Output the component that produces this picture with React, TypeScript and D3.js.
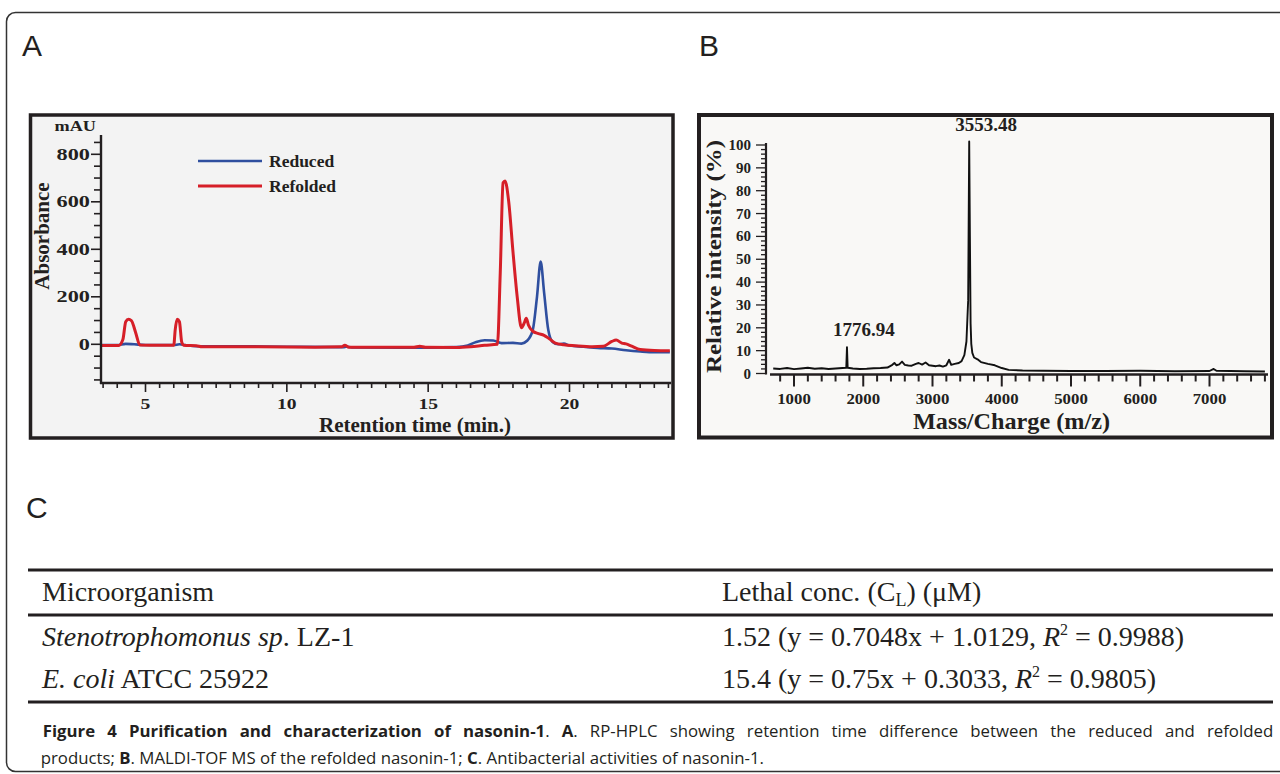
import React from 'react';
import * as d3 from 'd3';

// ---- panel A: RP-HPLC traces ----
const reducedTime = [3.45, 4.0, 4.3, 4.6, 5.0, 6.0, 6.2, 6.4, 6.8, 8.0, 10.0, 12.0, 12.1, 12.3, 14.0, 15.0, 16.0, 16.4, 16.7, 17.0, 17.3, 17.6, 18.0, 18.3, 18.5, 18.7, 18.85, 18.98, 19.1, 19.25, 19.4, 19.6, 19.8, 20.0, 20.5, 21.0, 21.5, 22.0, 22.5, 23.0, 23.55];
const reducedAbs = [-3, -3, 2, 0, -3, -3, 0, -3, -8, -8, -10, -12, -10, -13, -14, -14, -12, -5, 10, 17, 16, 5, 6, 3, 15, 60, 200, 348, 220, 60, 10, 0, 3, -5, -10, -15, -18, -25, -30, -33, -33];

const refoldedTime = [3.45, 4.05, 4.2, 4.3, 4.4, 4.5, 4.65, 4.8, 5.5, 6.0, 6.05, 6.12, 6.2, 6.28, 6.35, 6.8, 7.0, 9.0, 11.0, 11.95, 12.05, 12.2, 13.0, 14.5, 14.7, 14.9, 16.0, 16.5, 17.0, 17.45, 17.55, 17.65, 17.72, 17.85, 18.0, 18.15, 18.3, 18.4, 18.47, 18.55, 18.7, 18.9, 19.1, 19.3, 19.5, 19.8, 20.2, 20.8, 21.2, 21.5, 21.65, 21.85, 22.0, 22.2, 22.5, 23.0, 23.55];
const refoldedAbs = [-5, -5, 20, 95, 105, 100, 50, -3, -4, -4, 60, 105, 95, 10, -4, -6, -10, -10, -12, -10, -4, -12, -12, -12, -8, -12, -13, -10, -4, 0, 300, 680, 688, 600, 390, 200, 70, 90, 110, 80, 55, 45, 38, 22, 5, -2, -6, -10, -8, 12, 18, 5, 2, -8, -22, -26, -27];

const hplcYTicks = [0, 200, 400, 600, 800];
const hplcXTicks = [5, 10, 15, 20];
const legendNames = ['Reduced', 'Refolded'];

// ---- panel B: MALDI-TOF spectrum ----
const msMass = [700, 800, 900, 1000, 1100, 1200, 1300, 1400, 1500, 1600, 1700, 1755, 1765, 1775, 1850, 1950, 2050, 2150, 2250, 2350, 2420, 2450, 2480, 2520, 2560, 2600, 2650, 2700, 2760, 2800, 2850, 2900, 2950, 3000, 3050, 3100, 3150, 3200, 3240, 3270, 3320, 3380, 3420, 3460, 3490, 3515, 3530, 3540, 3550, 3560, 3575, 3600, 3650, 3700, 3800, 3900, 4000, 4100, 4300, 4600, 5000, 5500, 6000, 6500, 7000, 7060, 7100, 7500, 7800];
const msIntensity = [2.2, 2.0, 2.4, 1.9, 2.2, 2.5, 2.1, 2.3, 2.0, 2.2, 2.4, 2.5, 11.5, 2.5, 2.2, 2.0, 2.1, 2.3, 2.4, 2.6, 3.8, 4.6, 3.6, 4.0, 5.2, 3.8, 3.5, 3.4, 4.2, 4.6, 3.9, 4.8, 3.6, 3.4, 3.2, 3.5, 3.0, 3.6, 6.0, 3.8, 4.2, 4.6, 5.4, 8.0, 14, 32, 101.5, 60, 22, 13, 9, 7, 6.2, 5.0, 4.2, 3.6, 2.4, 1.6, 1.3, 1.2, 1.1, 1.1, 1.2, 1.0, 1.1, 2.0, 1.2, 1.0, 0.9];
const msYTicks = [0, 10, 20, 30, 40, 50, 60, 70, 80, 90, 100];
const msXTicks = [1000, 2000, 3000, 4000, 5000, 6000, 7000];
const peakMass = [1765, 3530];
const peakText = ['1776.94', '3553.48'];

// ---- panel C: table ----
const tableHeader = ['Microorganism', 'Lethal conc.'];
const organismItalic = ['Stenotrophomonus sp', 'E. coli'];
const organismRest = ['. LZ-1', ' ATCC 25922'];
const lethalConc = ['1.52', '15.4'];
const fitEquation = ['y = 0.7048x + 1.0129', 'y = 0.75x + 0.3033'];
const fitR2 = ['0.9988', '0.9805'];

const serif = "'Liberation Serif', 'Times New Roman', serif";
const sans = "'Liberation Sans', Arial, sans-serif";
const capFont = "'Open Sans', 'Noto Sans', sans-serif";
const ink = '#231f20';
const blue = '#2f4f9f';
const red = '#d61f28';

function PanelA() {
  const x = d3.scaleLinear().domain([5, 20]).range([145.5, 569.5]);
  const y = d3.scaleLinear().domain([0, 800]).range([344.3, 154.3]);
  const axisX = 101, axisY = 383;
  const line = d3.line<[number, number]>().x(d => x(d[0])).y(d => y(d[1])).curve(d3.curveMonotoneX);
  const red_ = refoldedTime.map((t, i) => [t, refoldedAbs[i]] as [number, number]);
  const blue_ = reducedTime.map((t, i) => [t, reducedAbs[i]] as [number, number]);
  const minorX = d3.range(3.5, 23.6, 0.5);
  const minorY = d3.range(-150, 851, 50);
  return (
    <g>
      <rect x={30.5} y={115} width={642.5} height={323} fill="#f3f3f3" stroke={ink} strokeWidth={3.5} />
      <clipPath id="clipA"><rect x={axisX} y={120} width={571} height={axisY - 120} /></clipPath>
      <g clipPath="url(#clipA)" fill="none" strokeLinejoin="round">
        <path d={line(blue_) || ''} stroke={blue} strokeWidth={2.6} />
        <path d={line(red_) || ''} stroke={red} strokeWidth={3} />
      </g>
      <line x1={axisX} x2={axisX} y1={135} y2={axisY + 1} stroke={ink} strokeWidth={2.4} />
      <line x1={axisX - 1} x2={671} y1={axisY} y2={axisY} stroke={ink} strokeWidth={2.4} />
      {minorY.map(v => (
        <line key={'my' + v} x1={axisX} x2={axisX - (v % 200 === 0 ? 10 : 7)} y1={y(v)} y2={y(v)} stroke={ink} strokeWidth={1.6} />
      ))}
      {minorX.map(v => (
        <line key={'mx' + v} x1={x(v)} x2={x(v)} y1={axisY} y2={axisY + (v % 5 === 0 ? 9 : 5)} stroke={ink} strokeWidth={1.6} />
      ))}
      {hplcYTicks.map(v => (
        <text key={'ty' + v} transform={`translate(90,${y(v) + 5.5}) scale(1.35,1)`} textAnchor="end"
          fontFamily={serif} fontWeight="bold" fontSize={16.5} fill={ink}>{v}</text>
      ))}
      {hplcXTicks.map(v => (
        <text key={'tx' + v} transform={`translate(${x(v)},409) scale(1.35,1)`} textAnchor="middle"
          fontFamily={serif} fontWeight="bold" fontSize={14.5} fill={ink}>{v}</text>
      ))}
      <text transform="translate(54.5,130.5) scale(1.3,1)" fontFamily={serif} fontWeight="bold" fontSize={14} fill={ink}>mAU</text>
      <text transform="translate(48.5,236) rotate(-90)" textAnchor="middle" fontFamily={serif} fontWeight="bold" fontSize={21} fill={ink}>Absorbance</text>
      <text x={415} y={431.5} textAnchor="middle" fontFamily={serif} fontWeight="bold" fontSize={21} fill={ink}>Retention time (min.)</text>
      {legendNames.map((n, i) => (
        <g key={n}>
          <line x1={198} x2={262} y1={161 + i * 25} y2={161 + i * 25} stroke={i === 0 ? blue : red} strokeWidth={i === 0 ? 2.4 : 3} />
          <text x={269} y={166.5 + i * 25.5} fontFamily={serif} fontWeight="bold" fontSize={17.5} fill={ink}>{n}</text>
        </g>
      ))}
    </g>
  );
}

function PanelB() {
  const x = d3.scaleLinear().domain([1000, 7000]).range([794, 1209.5]);
  const y = d3.scaleLinear().domain([0, 100]).range([373.5, 145]);
  const axisX = 766, axisY = 374.5;
  const line = d3.line<[number, number]>().x(d => x(d[0])).y(d => y(d[1]));
  const pts = msMass.map((m, i) => [m, msIntensity[i]] as [number, number]);
  const minorY = d3.range(0, 101, 2);
  const minorX = d3.range(800, 7801, 200);
  return (
    <g>
      <rect x={699} y={115} width={573} height={322.5} fill="#f9f8f6" stroke={ink} strokeWidth={4} />
      <path d={line(pts) || ''} fill="none" stroke="#111" strokeWidth={1.9} strokeLinejoin="round" />
      <line x1={axisX} x2={axisX} y1={143} y2={axisY} stroke={ink} strokeWidth={2.2} />
      <line x1={770} x2={1268} y1={axisY} y2={axisY} stroke={ink} strokeWidth={2.4} />
      {minorY.map(v => (
        <line key={'my' + v} x1={axisX} x2={axisX - (v % 10 === 0 ? 10 : 5)} y1={y(v)} y2={y(v)} stroke={ink} strokeWidth={1.3} />
      ))}
      {minorX.map(v => (
        <line key={'mx' + v} x1={x(v)} x2={x(v)} y1={axisY} y2={axisY + (v % 1000 === 0 ? 12 : 7)} stroke={ink} strokeWidth={2} />
      ))}
      {msYTicks.map(v => (
        <text key={'ty' + v} transform={`translate(751,${y(v) + 5})`} textAnchor="end"
          fontFamily={serif} fontWeight="bold" fontSize={15} fill={ink}>{v}</text>
      ))}
      {msXTicks.map(v => (
        <text key={'tx' + v} transform={`translate(${x(v)},404) scale(1.12,1)`} textAnchor="middle"
          fontFamily={serif} fontWeight="bold" fontSize={15} fill={ink}>{v}</text>
      ))}
      {peakMass.map((m, i) => (
        <text key={m} x={x(m) + 17} y={y(msIntensity[msMass.indexOf(m)]) - 11} textAnchor="middle"
          fontFamily={serif} fontWeight="bold" fontSize={19} fill={ink}>{peakText[i]}</text>
      ))}
      <text transform="translate(721,256.5) rotate(-90)" textAnchor="middle" textLength={233} lengthAdjust="spacingAndGlyphs"
        fontFamily={serif} fontWeight="bold" fontSize={22} fill={ink}>Relative intensity (%)</text>
      <text x={1011.5} y={428.5} textAnchor="middle" textLength={197} lengthAdjust="spacingAndGlyphs"
        fontFamily={serif} fontWeight="bold" fontSize={23} fill={ink}>Mass/Charge (m/z)</text>
    </g>
  );
}

function PanelC() {
  const rowY = d3.scaleLinear().domain([0, 1]).range([646, 688]);
  const col1 = 42, col2 = 722;
  return (
    <g fontFamily={serif} fontSize={28} fill={ink}>
      <line x1={28} x2={1273} y1={570} y2={570} stroke={ink} strokeWidth={3} />
      <line x1={28} x2={1273} y1={615} y2={615} stroke={ink} strokeWidth={3} />
      <line x1={28} x2={1273} y1={702} y2={702} stroke={ink} strokeWidth={3} />
      <text x={col1} y={601}>{tableHeader[0]}</text>
      <text x={col2} y={601}>{tableHeader[1]} (C<tspan fontSize={18} dy={5}>L</tspan><tspan dy={-5}>) (μM)</tspan></text>
      {organismItalic.map((o, i) => (
        <g key={o}>
          <text x={col1} y={rowY(i)}><tspan fontStyle="italic">{organismItalic[i]}</tspan>{organismRest[i]}</text>
          <text x={col2} y={rowY(i)}>
            {lethalConc[i]} ({fitEquation[i]}, <tspan fontStyle="italic">R</tspan><tspan fontSize={16} dy={-11}>2</tspan><tspan dy={11}> = {fitR2[i]})</tspan>
          </text>
        </g>
      ))}
    </g>
  );
}

function Caption() {
  return (
    <g fontFamily={capFont} fontSize={16.8} fill={ink}>
      <text x={42.7} y={736.5} wordSpacing={7.8}>
        <tspan fontWeight="bold">Figure 4 Purification and characterization of nasonin-1</tspan>. <tspan fontWeight="bold">A</tspan>. RP-HPLC showing retention time difference between the reduced and refolded
      </text>
      <text x={40.7} y={763.5}>
        products; <tspan fontWeight="bold">B</tspan>. MALDI-TOF MS of the refolded nasonin-1; <tspan fontWeight="bold">C</tspan>. Antibacterial activities of nasonin-1.
      </text>
    </g>
  );
}

export default function App() {
  return (
    <svg width={1280} height={774} viewBox="0 0 1280 774" style={{ position: 'absolute', left: 0, top: 0, background: '#fff' }}>
      <rect x={6.5} y={12.5} width={1320} height={759} rx={9} fill="#fff" stroke="#333" strokeWidth={1.5} />
      <text x={22} y={56} fontFamily={sans} fontSize={30} fill={ink}>A</text>
      <text x={699} y={56} fontFamily={sans} fontSize={30} fill={ink}>B</text>
      <text x={26} y={518} fontFamily={sans} fontSize={30} fill={ink}>C</text>
      <PanelA />
      <PanelB />
      <PanelC />
      <Caption />
    </svg>
  );
}
